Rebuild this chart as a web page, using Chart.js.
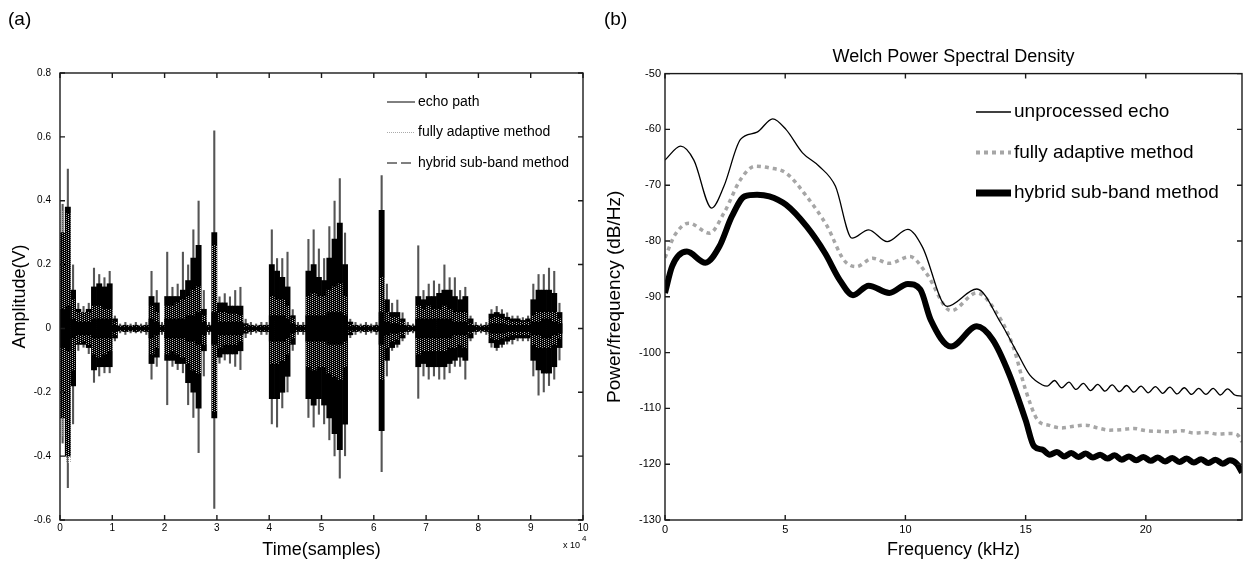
<!DOCTYPE html>
<html>
<head>
<meta charset="utf-8">
<script src="https://cdn.jsdelivr.net/npm/chart.js@4.4.1/dist/chart.umd.min.js"></script>
<style>
  html, body { margin: 0; padding: 0; background: #fff; }
  #wrap { position: relative; width: 1247px; height: 562px; overflow: hidden; }
  #chartA { position: absolute; left: 0; top: 0; }
  #chartB { position: absolute; left: 600px; top: 0; }
</style>
</head>
<body>
<div id="wrap">
  <canvas id="chartA" width="620" height="562"></canvas>
  <canvas id="chartB" width="647" height="562"></canvas>
</div>
<script>
// ---- (a) time signal in bins of 1000 samples ----
const sampleBins = [
  500, 1500, 2500, 3500, 4500, 5500, 6500, 7500, 8500, 9500,
  10500, 11500, 12500, 13500, 14500, 15500, 16500, 17500, 18500, 19500,
  20500, 21500, 22500, 23500, 24500, 25500, 26500, 27500, 28500, 29500,
  30500, 31500, 32500, 33500, 34500, 35500, 36500, 37500, 38500, 39500,
  40500, 41500, 42500, 43500, 44500, 45500, 46500, 47500, 48500, 49500,
  50500, 51500, 52500, 53500, 54500, 55500, 56500, 57500, 58500, 59500,
  60500, 61500, 62500, 63500, 64500, 65500, 66500, 67500, 68500, 69500,
  70500, 71500, 72500, 73500, 74500, 75500, 76500, 77500, 78500, 79500,
  80500, 81500, 82500, 83500, 84500, 85500, 86500, 87500, 88500, 89500,
  90500, 91500, 92500, 93500, 94500, 95500
];

// echo path: outer spikes
const echoPeakHigh = [
  0.39, 0.50, 0.20, 0.08, 0.07, 0.08, 0.19, 0.17, 0.16, 0.18,
  0.04, 0.015, 0.02, 0.015, 0.02, 0.015, 0.02, 0.18, 0.12, 0.02,
  0.24, 0.13, 0.14, 0.24, 0.20, 0.31, 0.40, 0.12, 0.02, 0.62,
  0.10, 0.11, 0.10, 0.12, 0.13, 0.03, 0.02, 0.015, 0.02, 0.02,
  0.31, 0.22, 0.22, 0.24, 0.06, 0.02, 0.02, 0.28, 0.31, 0.25,
  0.22, 0.32, 0.40, 0.47, 0.30, 0.03, 0.02, 0.015, 0.02, 0.015,
  0.02, 0.48, 0.14, 0.08, 0.09, 0.05, 0.02, 0.015, 0.26, 0.12,
  0.14, 0.15, 0.14, 0.20, 0.16, 0.16, 0.12, 0.13, 0.04, 0.02,
  0.015, 0.02, 0.06, 0.07, 0.06, 0.05, 0.04, 0.04, 0.035, 0.04,
  0.14, 0.17, 0.17, 0.19, 0.18, 0.08
];
const echoPeakLow = [
  -0.36, -0.50, -0.30, -0.07, -0.06, -0.08, -0.17, -0.15, -0.14, -0.14,
  -0.04, -0.015, -0.02, -0.015, -0.015, -0.015, -0.02, -0.16, -0.12, -0.02,
  -0.24, -0.12, -0.13, -0.14, -0.24, -0.28, -0.39, -0.15, -0.02, -0.565,
  -0.11, -0.10, -0.11, -0.12, -0.13, -0.03, -0.02, -0.015, -0.02, -0.02,
  -0.30, -0.31, -0.25, -0.20, -0.07, -0.02, -0.02, -0.28, -0.31, -0.27,
  -0.30, -0.35, -0.40, -0.47, -0.40, -0.03, -0.02, -0.015, -0.02, -0.015,
  -0.02, -0.45, -0.15, -0.07, -0.06, -0.04, -0.02, -0.015, -0.22, -0.15,
  -0.16, -0.15, -0.16, -0.16, -0.14, -0.12, -0.12, -0.16, -0.04, -0.02,
  -0.015, -0.02, -0.06, -0.07, -0.06, -0.05, -0.05, -0.04, -0.04, -0.04,
  -0.15, -0.21, -0.20, -0.18, -0.16, -0.10
];
// echo path: dense body
const echoBodyHigh = [
  0.30, 0.38, 0.12, 0.06, 0.05, 0.06, 0.13, 0.14, 0.13, 0.14,
  0.03, 0.008, 0.01, 0.008, 0.01, 0.008, 0.01, 0.10, 0.08, 0.01,
  0.10, 0.10, 0.10, 0.12, 0.15, 0.22, 0.26, 0.06, 0.01, 0.30,
  0.08, 0.08, 0.07, 0.07, 0.07, 0.015, 0.01, 0.008, 0.01, 0.01,
  0.20, 0.18, 0.16, 0.13, 0.04, 0.01, 0.01, 0.18, 0.20, 0.16,
  0.15, 0.22, 0.28, 0.33, 0.20, 0.02, 0.01, 0.008, 0.01, 0.008,
  0.01, 0.37, 0.09, 0.05, 0.05, 0.03, 0.01, 0.008, 0.10, 0.09,
  0.10, 0.10, 0.11, 0.12, 0.12, 0.10, 0.09, 0.10, 0.03, 0.01,
  0.008, 0.01, 0.045, 0.05, 0.045, 0.035, 0.03, 0.03, 0.025, 0.03,
  0.09, 0.12, 0.12, 0.12, 0.11, 0.05
];
const echoBodyLow = [
  -0.28, -0.40, -0.18, -0.05, -0.05, -0.06, -0.13, -0.12, -0.12, -0.12,
  -0.03, -0.008, -0.01, -0.008, -0.01, -0.008, -0.01, -0.11, -0.09, -0.01,
  -0.10, -0.10, -0.11, -0.11, -0.17, -0.20, -0.25, -0.07, -0.01, -0.28,
  -0.09, -0.08, -0.08, -0.08, -0.07, -0.015, -0.01, -0.008, -0.01, -0.01,
  -0.22, -0.22, -0.20, -0.15, -0.05, -0.01, -0.01, -0.22, -0.24, -0.22,
  -0.24, -0.28, -0.33, -0.38, -0.30, -0.02, -0.01, -0.008, -0.01, -0.008,
  -0.01, -0.32, -0.10, -0.06, -0.05, -0.03, -0.01, -0.008, -0.12, -0.11,
  -0.12, -0.12, -0.12, -0.12, -0.11, -0.10, -0.09, -0.10, -0.03, -0.01,
  -0.008, -0.01, -0.045, -0.06, -0.05, -0.04, -0.035, -0.03, -0.03, -0.03,
  -0.10, -0.13, -0.14, -0.14, -0.12, -0.06
];
// fully adaptive method residual
const adaptiveHigh = [
  0.37, 0.36, 0.09, 0.05, 0.05, 0.05, 0.07, 0.07, 0.06, 0.06,
  0.02, 0.006, 0.008, 0.006, 0.008, 0.006, 0.008, 0.07, 0.05, 0.008,
  0.07, 0.07, 0.08, 0.09, 0.10, 0.12, 0.13, 0.04, 0.008, 0.26,
  0.05, 0.05, 0.045, 0.045, 0.04, 0.01, 0.008, 0.006, 0.008, 0.008,
  0.10, 0.09, 0.09, 0.07, 0.03, 0.008, 0.008, 0.10, 0.11, 0.10,
  0.10, 0.12, 0.13, 0.14, 0.10, 0.012, 0.008, 0.006, 0.008, 0.006,
  0.008, 0.16, 0.05, 0.035, 0.035, 0.02, 0.008, 0.006, 0.07, 0.06,
  0.07, 0.06, 0.06, 0.07, 0.06, 0.05, 0.05, 0.05, 0.015, 0.008,
  0.006, 0.008, 0.03, 0.035, 0.03, 0.025, 0.02, 0.02, 0.02, 0.02,
  0.04, 0.05, 0.05, 0.05, 0.05, 0.03
];
const adaptiveLow = [
  -0.34, -0.42, -0.13, -0.045, -0.04, -0.05, -0.08, -0.09, -0.08, -0.07,
  -0.02, -0.006, -0.008, -0.006, -0.008, -0.006, -0.008, -0.08, -0.06, -0.008,
  -0.08, -0.07, -0.08, -0.09, -0.11, -0.13, -0.14, -0.05, -0.008, -0.26,
  -0.06, -0.05, -0.05, -0.05, -0.04, -0.01, -0.008, -0.006, -0.008, -0.008,
  -0.11, -0.11, -0.10, -0.08, -0.03, -0.008, -0.008, -0.12, -0.13, -0.12,
  -0.12, -0.14, -0.15, -0.16, -0.12, -0.012, -0.008, -0.006, -0.008, -0.006,
  -0.008, -0.16, -0.06, -0.04, -0.035, -0.02, -0.008, -0.006, -0.08, -0.07,
  -0.07, -0.07, -0.07, -0.07, -0.06, -0.06, -0.05, -0.06, -0.015, -0.008,
  -0.006, -0.008, -0.03, -0.035, -0.03, -0.025, -0.02, -0.02, -0.02, -0.02,
  -0.05, -0.06, -0.06, -0.06, -0.05, -0.03
];
// hybrid sub-band method residual
const hybridHigh = [
  0.06, 0.07, 0.03, 0.02, 0.02, 0.02, 0.03, 0.03, 0.03, 0.03,
  0.01, 0.004, 0.005, 0.004, 0.005, 0.004, 0.005, 0.03, 0.02, 0.005,
  0.03, 0.03, 0.03, 0.03, 0.04, 0.04, 0.05, 0.02, 0.005, 0.05,
  0.02, 0.02, 0.02, 0.02, 0.02, 0.005, 0.005, 0.004, 0.005, 0.005,
  0.04, 0.04, 0.04, 0.03, 0.015, 0.005, 0.005, 0.04, 0.04, 0.04,
  0.04, 0.05, 0.05, 0.05, 0.04, 0.006, 0.005, 0.004, 0.005, 0.004,
  0.005, 0.05, 0.02, 0.015, 0.015, 0.01, 0.005, 0.004, 0.03, 0.03,
  0.03, 0.03, 0.03, 0.03, 0.03, 0.02, 0.02, 0.02, 0.01, 0.005,
  0.004, 0.005, 0.015, 0.015, 0.015, 0.01, 0.01, 0.01, 0.01, 0.01,
  0.02, 0.02, 0.03, 0.03, 0.02, 0.015
];
const hybridLow = [
  -0.06, -0.07, -0.03, -0.02, -0.02, -0.02, -0.03, -0.03, -0.03, -0.03,
  -0.01, -0.004, -0.005, -0.004, -0.005, -0.004, -0.005, -0.03, -0.02, -0.005,
  -0.03, -0.03, -0.03, -0.03, -0.04, -0.04, -0.05, -0.02, -0.005, -0.05,
  -0.02, -0.02, -0.02, -0.02, -0.02, -0.005, -0.005, -0.004, -0.005, -0.005,
  -0.04, -0.04, -0.04, -0.03, -0.015, -0.005, -0.005, -0.04, -0.04, -0.04,
  -0.04, -0.05, -0.05, -0.05, -0.04, -0.006, -0.005, -0.004, -0.005, -0.004,
  -0.005, -0.05, -0.02, -0.015, -0.015, -0.01, -0.005, -0.004, -0.03, -0.03,
  -0.03, -0.03, -0.03, -0.03, -0.03, -0.02, -0.02, -0.02, -0.01, -0.005,
  -0.004, -0.005, -0.015, -0.015, -0.015, -0.01, -0.01, -0.01, -0.01, -0.01,
  -0.02, -0.02, -0.03, -0.03, -0.02, -0.015
];
const seriesNamesA = ['echo path', 'fully adaptive method', 'hybrid sub-band method'];
const sampleExponent = 4;

// ---- (b) Welch PSD ----
const freqEcho = [
  0, 0.65, 1.2, 1.94, 2.45, 3.14, 3.83, 4.48, 5.03, 5.72, 6.41, 7.09, 7.78, 8.47,
  9.24, 10.1, 10.7, 11.73, 12.97, 13.97, 14.66, 15.17, 15.7,
  15.9, 16.2, 16.5, 16.8, 17.1, 17.4, 17.7, 18.0, 18.3, 18.6, 18.9, 19.2, 19.5,
  19.8, 20.1, 20.4, 20.7, 21.0, 21.3, 21.6, 21.9, 22.2, 22.5, 22.8, 23.1, 23.4,
  23.7, 24.0
];
const psdEcho = [
  -65.5, -63.0, -65.5, -74.1, -70.2, -61.8, -60.5, -58.1, -60.0, -64.2, -66.6, -70.2, -79.5, -78.0,
  -80.1, -77.9, -81.0, -91.7, -88.6, -94.7, -100.1, -104.0, -105.8,
  -106.0, -105.0, -106.3, -105.3, -106.6, -105.5, -106.8, -105.7, -106.9, -105.8, -107.0, -105.9, -107.1,
  -106.0, -107.2, -106.1, -107.3, -106.2, -107.4, -106.3, -107.5, -106.4, -107.5, -106.4, -107.6, -106.5,
  -107.6, -107.8
];
const freqAdaptive = [
  0, 0.4, 0.99, 1.85, 2.45, 3.14, 3.74, 4.34, 5.03, 5.89, 6.75, 7.44, 7.95, 8.64,
  9.33, 10.19, 10.87, 11.9, 12.97, 13.8, 14.48, 15.0, 15.5, 15.95,
  16.5, 17.0, 17.5, 18.0, 18.5, 19.0, 19.5, 20.0, 20.5, 21.0, 21.5, 22.0, 22.5,
  23.0, 23.5, 23.8, 24.0
];
const psdAdaptive = [
  -83.0, -79.0, -76.8, -78.6, -75.0, -69.0, -66.6, -66.9, -67.8, -72.0, -77.4, -83.4, -84.6, -83.1,
  -84.0, -82.8, -85.8, -92.5, -89.3, -92.9, -98.9, -106.7, -112.1, -113.0,
  -113.5, -113.2, -113.0, -113.5, -113.9, -113.8, -113.6, -114.0, -114.1, -114.2, -114.0, -114.4, -114.3,
  -114.6, -114.5, -114.7, -116.0
];
const freqHybrid = [
  0, 0.3, 0.91, 1.68, 2.26, 2.78, 3.31, 3.83, 4.34, 5.03, 5.89, 6.66, 7.27, 7.82,
  8.47, 9.33, 10.1, 10.62, 11.05, 11.9, 12.97, 13.63, 14.3, 15.0, 15.35, 15.7,
  16.0, 16.3, 16.6, 16.9, 17.2, 17.5, 17.8, 18.1, 18.4, 18.7, 19.0, 19.3, 19.6,
  19.9, 20.2, 20.5, 20.8, 21.1, 21.4, 21.7, 22.0, 22.3, 22.6, 22.9, 23.2, 23.5,
  23.8, 24.0
];
const psdHybrid = [
  -89.3, -84.5, -81.9, -83.9, -81.0, -75.6, -72.0, -71.7, -72.0, -73.5, -77.4, -82.2, -87.0, -89.7,
  -88.0, -89.3, -87.7, -88.7, -94.1, -98.9, -95.3, -97.7, -103.7, -112.1, -116.8, -117.4,
  -118.3, -117.8, -118.6, -118.0, -118.7, -118.1, -118.8, -118.3, -119.0, -118.4, -119.2, -118.6, -119.3,
  -118.7, -119.4, -118.8, -119.5, -118.9, -119.6, -119.0, -119.7, -119.1, -119.8, -119.2, -119.9, -119.3,
  -120.0, -121.5
];
const seriesNamesB = ['unprocessed echo', 'fully adaptive method', 'hybrid sub-band method'];

const FONT = "'Liberation Sans', Arial, Helvetica, sans-serif";
Chart.defaults.font.family = FONT;
Chart.defaults.color = '#000';

// box round the plot with the little inward ticks, matlab style
const frameTicks = {
  id: 'frameTicks',
  afterDatasetsDraw(chart, args, opts) {
    const {ctx, chartArea: a, scales} = chart;
    const len = opts.len || 5;
    ctx.save();
    ctx.strokeStyle = '#1a1a1a';
    ctx.lineWidth = 1.4;
    ctx.beginPath();
    scales.x.ticks.forEach(t => {
      const px = scales.x.getPixelForValue(t.value);
      ctx.moveTo(px, a.bottom); ctx.lineTo(px, a.bottom - len);
      ctx.moveTo(px, a.top); ctx.lineTo(px, a.top + len);
    });
    scales.y.ticks.forEach(t => {
      const py = scales.y.getPixelForValue(t.value);
      ctx.moveTo(a.left, py); ctx.lineTo(a.left + len, py);
      ctx.moveTo(a.right, py); ctx.lineTo(a.right - len, py);
    });
    ctx.stroke();
    ctx.strokeRect(a.left, a.top, a.right - a.left, a.bottom - a.top);
    ctx.restore();
  }
};

const insideLegend = {
  id: 'insideLegend',
  afterDraw(chart, args, opts) {
    const {ctx} = chart;
    ctx.save();
    ctx.font = opts.font;
    ctx.textBaseline = 'middle';
    opts.items.forEach((it, i) => {
      const y = opts.y + i * opts.gap;
      ctx.beginPath();
      ctx.strokeStyle = it.color;
      ctx.lineWidth = it.width;
      ctx.setLineDash(it.dash || []);
      ctx.moveTo(opts.x, y);
      ctx.lineTo(opts.x + opts.len, y);
      ctx.stroke();
      ctx.setLineDash([]);
      ctx.fillStyle = '#000';
      ctx.fillText(it.label, opts.x + opts.len + 3, y);
    });
    ctx.restore();
  }
};

const panelText = {
  id: 'panelText',
  afterDraw(chart, args, opts) {
    const {ctx} = chart;
    ctx.save();
    ctx.fillStyle = '#000';
    ctx.textBaseline = 'middle';
    opts.texts.forEach(t => {
      ctx.font = t.font;
      ctx.fillText(t.text, t.x, t.y);
    });
    ctx.restore();
  }
};

// sparse grey dots, looks like the dotted trace lying over the black one
function speckle() {
  const c = document.createElement('canvas');
  c.width = 4; c.height = 2;
  const g = c.getContext('2d');
  g.fillStyle = '#cfcfcf'; g.fillRect(0, 0, 1, 1);
  g.fillStyle = '#9a9a9a'; g.fillRect(2, 1, 1, 1);
  return g.createPattern(c, 'repeat');
}

function band(lo, hi) {
  return sampleBins.map((x, i) => ({x: x, y: [lo[i], hi[i]]}));
}

new Chart(document.getElementById('chartA'), {
  type: 'bar',
  data: {
    datasets: [
      { label: seriesNamesA[2], data: band(hybridLow, hybridHigh), backgroundColor: '#000', order: 0 },
      { label: seriesNamesA[1], data: band(adaptiveLow, adaptiveHigh), backgroundColor: speckle(), order: 1 },
      { label: seriesNamesA[0], data: band(echoBodyLow, echoBodyHigh), backgroundColor: '#000', order: 2 },
      { label: seriesNamesA[0], data: band(echoPeakLow, echoPeakHigh), backgroundColor: '#555', barPercentage: 0.4, order: 3 }
    ]
  },
  options: {
    responsive: false,
    animation: false,
    events: [],
    grouped: false,
    barPercentage: 1,
    categoryPercentage: 1,
    borderWidth: 0,
    layout: { padding: { left: 0, top: 73, right: 37, bottom: 0 } },
    scales: {
      x: {
        type: 'linear', min: 0, max: 100000, offset: false,
        grid: { display: false, drawTicks: false }, border: { display: false },
        ticks: { stepSize: 10000, padding: 2, maxRotation: 0, font: { size: 10 },
          callback: v => String(v / 10000) },
        title: { display: true, text: 'Time(samples)', font: { size: 18 }, padding: { top: 0, bottom: 1 } },
        afterFit: s => { s.height = 42; }
      },
      y: {
        min: -0.6, max: 0.8,
        grid: { display: false, drawTicks: false }, border: { display: false },
        ticks: { stepSize: 0.2, padding: 9, font: { size: 10 },
          callback: v => String(Math.round(v * 10) / 10) },
        title: { display: true, text: 'Amplitude(V)', font: { size: 18 }, padding: { top: 9, bottom: 0 } },
        afterFit: s => { s.width = 60; }
      }
    },
    plugins: {
      legend: { display: false },
      tooltip: { enabled: false },
      frameTicks: { len: 5 },
      insideLegend: {
        x: 387, y: 102, gap: 30.5, len: 28, font: '14px ' + FONT,
        items: [
          { label: seriesNamesA[0], color: '#000', width: 1 },
          { label: seriesNamesA[1], color: '#aaa', width: 1, dash: [1, 1] },
          { label: seriesNamesA[2], color: '#000', width: 1, dash: [10, 4] }
        ]
      },
      panelText: {
        texts: [
          { text: '(a)', x: 8, y: 20, font: '19px ' + FONT },
          { text: 'x 10', x: 563, y: 546, font: '9px ' + FONT },
          { text: String(sampleExponent), x: 582, y: 539, font: '8px ' + FONT }
        ]
      }
    }
  },
  plugins: [frameTicks, insideLegend, panelText]
});

function pts(xs, ys) {
  return xs.map((x, i) => ({x: x, y: ys[i]}));
}

new Chart(document.getElementById('chartB'), {
  type: 'line',
  data: {
    datasets: [
      { label: seriesNamesB[0], data: pts(freqEcho, psdEcho), borderColor: '#000', borderWidth: 1.3 },
      { label: seriesNamesB[1], data: pts(freqAdaptive, psdAdaptive), borderColor: '#a6a6a6', borderWidth: 3.5, borderDash: [4, 4] },
      { label: seriesNamesB[2], data: pts(freqHybrid, psdHybrid), borderColor: '#000', borderWidth: 6 }
    ]
  },
  options: {
    responsive: false,
    animation: false,
    events: [],
    layout: { padding: { left: 0, top: 46, right: 5, bottom: 0 } },
    elements: {
      point: { radius: 0 },
      line: { cubicInterpolationMode: 'monotone', borderJoinStyle: 'round', fill: false }
    },
    scales: {
      x: {
        type: 'linear', min: 0, max: 24,
        grid: { display: false, drawTicks: false }, border: { display: false },
        ticks: { stepSize: 5, includeBounds: false, padding: 3, maxRotation: 0, font: { size: 11 } },
        title: { display: true, text: 'Frequency (kHz)', font: { size: 18 }, padding: { top: 0, bottom: 1 } },
        afterFit: s => { s.height = 42; }
      },
      y: {
        min: -130, max: -50,
        grid: { display: false, drawTicks: false }, border: { display: false },
        ticks: { stepSize: 10, padding: 4, font: { size: 11 } },
        title: { display: true, text: 'Power/frequency (dB/Hz)', font: { size: 19 }, padding: { top: 3, bottom: 0 } },
        afterFit: s => { s.width = 65; }
      }
    },
    plugins: {
      legend: { display: false },
      tooltip: { enabled: false },
      title: {
        display: true, text: 'Welch Power Spectral Density', fullSize: false,
        font: { size: 18, weight: 'normal' }, color: '#000', padding: { top: 0, bottom: 6 }
      },
      frameTicks: { len: 5 },
      insideLegend: {
        x: 376, y: 112, gap: 40.5, len: 35, font: '19px ' + FONT,
        items: [
          { label: seriesNamesB[0], color: '#000', width: 1.3 },
          { label: seriesNamesB[1], color: '#a6a6a6', width: 4, dash: [4, 4] },
          { label: seriesNamesB[2], color: '#000', width: 7 }
        ]
      },
      panelText: {
        texts: [ { text: '(b)', x: 4, y: 20, font: '19px ' + FONT } ]
      }
    }
  },
  plugins: [frameTicks, insideLegend, panelText]
});
</script>
</body>
</html>
